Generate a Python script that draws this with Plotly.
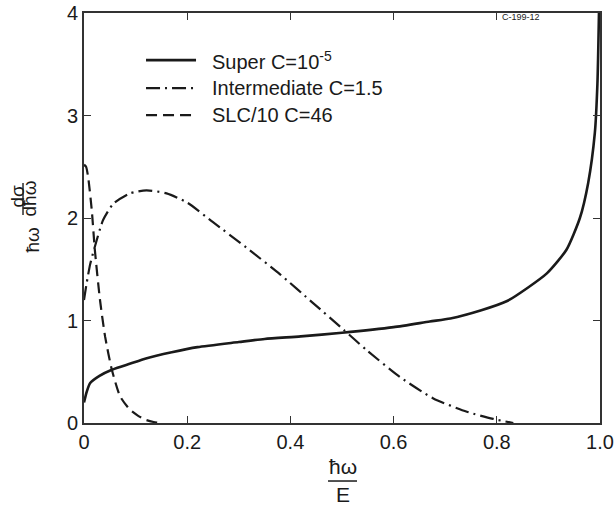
import plotly.graph_objects as go

# ---- data ----
super_x = [0, 0.005, 0.012, 0.03, 0.054, 0.09, 0.12, 0.17, 0.22, 0.3, 0.35, 0.42, 0.5, 0.6,
           0.67, 0.71, 0.77, 0.82, 0.86, 0.897, 0.935, 0.961, 0.977, 0.99, 0.995, 0.998]
super_y = [0.2, 0.3, 0.39, 0.46, 0.52, 0.58, 0.63, 0.69, 0.74, 0.79, 0.82, 0.845, 0.88, 0.935,
           0.99, 1.02, 1.10, 1.19, 1.32, 1.46, 1.69, 2.0, 2.34, 2.83, 3.31, 4.0]

inter_x = [0, 0.005, 0.012, 0.021, 0.037, 0.057, 0.089, 0.121, 0.16, 0.2, 0.25, 0.315, 0.38,
           0.444, 0.503, 0.548, 0.612, 0.677, 0.742, 0.793, 0.832]
inter_y = [1.2, 1.36, 1.55, 1.72, 1.98, 2.14, 2.24, 2.27, 2.24, 2.15, 1.96, 1.71, 1.45,
           1.17, 0.91, 0.71, 0.45, 0.24, 0.11, 0.04, 0.0]

slc_x = [0, 0.004, 0.008, 0.015, 0.021, 0.031, 0.041, 0.054, 0.07, 0.089, 0.105, 0.12, 0.135, 0.15]
slc_y = [2.52, 2.5, 2.40, 2.08, 1.69, 1.20, 0.84, 0.52, 0.26, 0.13, 0.07, 0.03, 0.01, 0.0]

names = ["Super C=10<sup>-5</sup>", "Intermediate C=1.5", "SLC/10 C=46"]
x_ticks = [0, 0.2, 0.4, 0.6, 0.8, 1.0]
x_tick_text = ["0", "0.2", "0.4", "0.6", "0.8", "1.0"]
y_ticks = [0, 1, 2, 3, 4]
y_tick_text = ["0", "1", "2", "3", "4"]

FONT = "Liberation Sans, Arial, Helvetica, sans-serif"
INK = "#1a1a1a"
DASHDOT = "14px,5px,2px,5px"
DASH = "11px,6px"

styles = [
    dict(width=2.6, dash="solid"),
    dict(width=2.2, dash=DASHDOT),
    dict(width=2.2, dash=DASH),
]

fig = go.Figure()
for (xs, ys), nm, st in zip([(super_x, super_y), (inter_x, inter_y), (slc_x, slc_y)], names, styles):
    fig.add_trace(go.Scatter(x=xs, y=ys, mode="lines", name=nm,
                             line=dict(color=INK, width=st["width"], dash=st["dash"],
                                       shape="spline", smoothing=0.6),
                             showlegend=False))

# manual legend (line samples + text)
leg_y = [0.885, 0.817, 0.751]
for yy, nm, st in zip(leg_y, names, styles):
    fig.add_shape(type="line", xref="paper", yref="paper", x0=0.1202, x1=0.2171, y0=yy, y1=yy,
                  line=dict(color=INK, width=st["width"], dash=st["dash"]))
    fig.add_annotation(xref="paper", yref="paper", x=0.2442, y=yy, text=nm, showarrow=False,
                       xanchor="left", yanchor="middle", font=dict(size=20, color=INK, family=FONT))

# figure id tag
fig.add_annotation(xref="paper", yref="paper", x=0.806, y=0.99, text="C-199-12", showarrow=False,
                   xanchor="left", yanchor="middle", font=dict(size=9, color=INK, family=FONT))

# x axis label: fraction hbar-omega / E
fig.add_annotation(xref="paper", yref="paper", x=0.501, y=-0.1073, text="ħω", showarrow=False,
                   xanchor="center", yanchor="middle", font=dict(size=21, color=INK, family=FONT))
fig.add_shape(type="line", xref="paper", yref="paper", x0=0.4729, x1=0.5291, y0=-0.1415, y1=-0.1415,
              line=dict(color=INK, width=1.5))
fig.add_annotation(xref="paper", yref="paper", x=0.501, y=-0.1732, text="E", showarrow=False,
                   xanchor="center", yanchor="middle", font=dict(size=21, color=INK, family=FONT))

# y axis label: hbar-omega dsigma / d hbar-omega (rotated)
YLF = dict(size=19, color=INK, family=FONT)
fig.add_annotation(xref="paper", yref="paper", x=-0.1008, y=0.4476, text="ħω", showarrow=False,
                   textangle=-90, xanchor="center", yanchor="middle", font=YLF)
fig.add_annotation(xref="paper", yref="paper", x=-0.1298, y=0.5524, text="dσ", showarrow=False,
                   textangle=-90, xanchor="center", yanchor="middle", font=YLF)
fig.add_shape(type="line", xref="paper", yref="paper", x0=-0.1182, x1=-0.1182, y0=0.5073, y1=0.5854,
              line=dict(color=INK, width=1.4))
fig.add_annotation(xref="paper", yref="paper", x=-0.1047, y=0.5476, text="dħω", showarrow=False,
                   textangle=-90, xanchor="center", yanchor="middle", font=YLF)

axis_common = dict(showline=True, linecolor="#333333", linewidth=1.6, mirror="ticks",
                   ticks="inside", ticklen=7, tickwidth=1.2, tickcolor="#333333",
                   showgrid=False, zeroline=False, automargin=False,
                   ticklabeloverflow="allow",
                   tickfont=dict(size=20, color=INK, family=FONT))

fig.update_xaxes(range=[0, 1.0], tickvals=x_ticks, ticktext=x_tick_text, **axis_common)
fig.update_yaxes(range=[0, 4], tickvals=y_ticks, ticktext=y_tick_text, **axis_common)

fig.update_layout(width=616, height=506,
                  margin=dict(l=84, r=16, t=13, b=83, autoexpand=False),
                  paper_bgcolor="white", plot_bgcolor="white",
                  font=dict(family=FONT, color=INK))

fig.write_html("out.html", config={"displayModeBar": False},
               post_script="document.body.style.margin='0';document.body.style.overflow='hidden';")
